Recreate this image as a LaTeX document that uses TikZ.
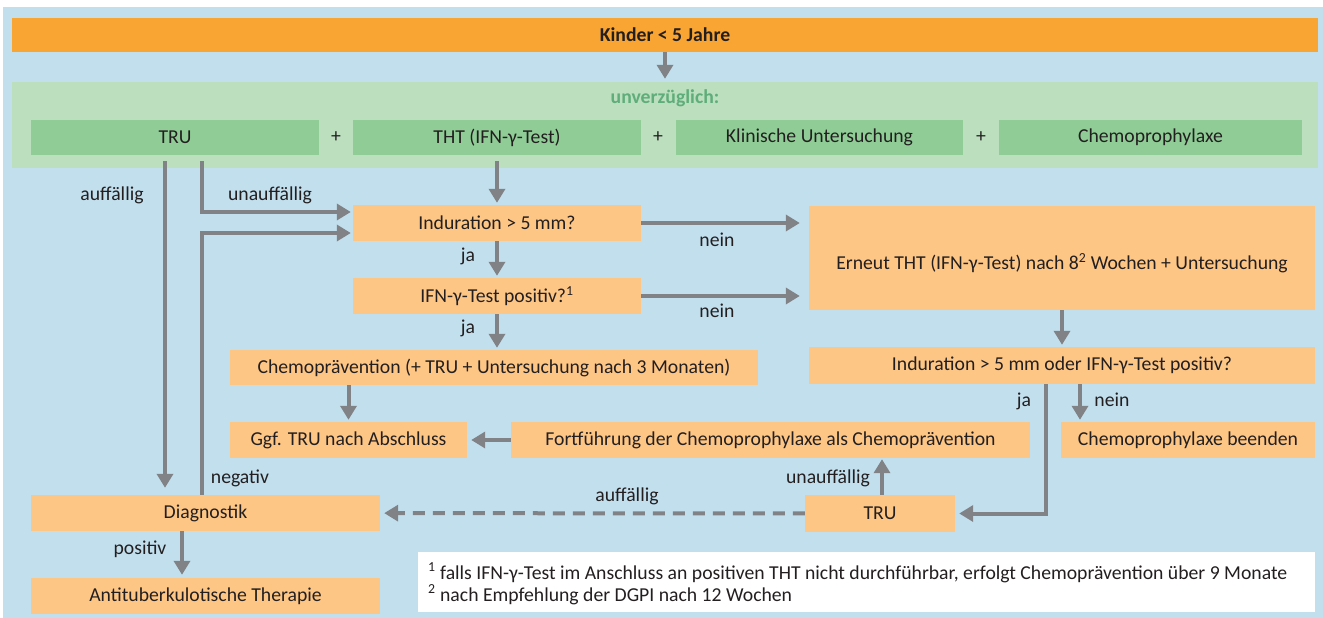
\documentclass[tikz,border=0pt]{standalone}
\usepackage{fontspec}
\setmainfont{Carlito}
\usetikzlibrary{positioning,arrows.meta,calc}
\definecolor{bgblue}{HTML}{C2DFEE}
\definecolor{barorange}{HTML}{F9A533}
\definecolor{boxorange}{HTML}{FDC685}
\definecolor{regiongreen}{HTML}{BCDFBE}
\definecolor{boxgreen}{HTML}{90CD96}
\definecolor{textgreen}{HTML}{5EAD7A}
\definecolor{arrgrey}{HTML}{808285}
\definecolor{txt}{HTML}{231F20}

\tikzset{
  obox/.style={fill=boxorange, inner sep=0pt, text=txt, font=\fontsize{19.7}{23}\selectfont},
  gbox/.style={fill=boxgreen, inner sep=0pt, minimum height=35, text=txt, font=\fontsize{19.7}{23}\selectfont},
  lbl/.style={text=txt, inner sep=1pt, font=\fontsize{19.7}{23}\selectfont},
  arr/.style={draw=arrgrey, line width=4pt, -{Triangle[width=16pt,length=14pt]}}
}

\begin{document}
\begin{tikzpicture}[x=1pt, y=-1pt]
  \useasboundingbox (0,0) rectangle (1323,618);
  \fill[bgblue] (3,7) rectangle (1323,618);

  % header
  \node[fill=barorange, inner sep=0pt, minimum width=1306, minimum height=34, text=txt,
        font=\fontsize{19.7}{23}\selectfont\bfseries] (kinder) at (665,35) {Kinder < 5 Jahre};
  \node[fill=regiongreen, inner sep=0pt, minimum width=1306, minimum height=86] (sofort) at (665,125) {};
  \node[text=textgreen, font=\fontsize{19.7}{23}\selectfont\bfseries] (unverz) at (665,98) {unverzüglich:};

  \node[gbox, minimum width=288] (tru) at (175,137.5) {TRU};
  \node[gbox, minimum width=288] (tht) at (497,137.5) {THT (IFN-γ-Test)};
  \node[gbox, minimum width=287] (klin) at (819.5,137.5) {Klinische Untersuchung};
  \node[gbox, minimum width=303] (cpro) at (1150.5,137.5) {Chemoprophylaxe};
  \node[lbl] (p1) at (336,137.5) {+};
  \node[lbl] (p2) at (658,137.5) {+};
  \node[lbl] (p3) at (981,137.5) {+};

  % left column
  \node[obox, minimum width=288, minimum height=36] (indur) at (497,223) {Induration > 5 mm?};
  \node[obox, minimum width=288, minimum height=36] (ifn) at (497,296) {IFN-γ-Test positiv?\textsuperscript{1}};
  \node[obox, minimum width=528, minimum height=35] (chemo) at (494,367.5) {Chemoprävention (+ TRU + Untersuchung nach 3 Monaten)};
  \node[obox, minimum width=237, minimum height=36] (ggf) at (348.5,440) {Ggf. TRU nach Abschluss};
  \node[obox, minimum width=519, minimum height=36] (fort) at (770.5,440) {Fortführung der Chemoprophylaxe als Chemoprävention};
  \node[obox, minimum width=349, minimum height=36] (diag) at (205.5,513) {Diagnostik};
  \node[obox, minimum width=349, minimum height=36] (antitb) at (205.5,596) {Antituberkulotische Therapie};

  % right column
  \node[obox, minimum width=506, minimum height=104] (erneut) at (1062,258) {};
  \node[obox, fill=none] (erneuttext) at (1062,263) {Erneut THT (IFN-γ-Test) nach 8\textsuperscript{2} Wochen + Untersuchung};
  \node[obox, minimum width=506, minimum height=37] (indur2) at (1062,365.5) {Induration > 5 mm oder IFN-γ-Test positiv?};
  \node[obox, minimum width=254, minimum height=36] (ende) at (1188,440) {Chemoprophylaxe beenden};
  \node[obox, minimum width=150, minimum height=37] (tru2) at (880,513.5) {TRU};

  % footnotes
  \node[fill=white, inner sep=0pt, minimum width=897, minimum height=60] (fn) at (866.5,582) {};
  \node[text=txt, anchor=west, align=left, inner sep=0pt, font=\fontsize{19.7}{22}\selectfont]
    (fntext) at (428,584) {\textsuperscript{1} falls IFN-γ-Test im Anschluss an positiven THT nicht durchführbar, erfolgt Chemoprävention über 9 Monate\\
                           \textsuperscript{2} nach Empfehlung der DGPI nach 12 Wochen};

  % connectors
  \draw[arr, shorten >=3pt] (kinder) -- (sofort);
  \draw[arr, shorten <=6pt, shorten >=7pt] ([xshift=-10]tru.south) -- ([xshift=-10]tru.south |- diag.north);
  \draw[arr, shorten <=6pt, shorten >=2pt] ([xshift=27]tru.south) |- ([yshift=11]indur.west);
  \draw[arr, shorten >=2pt] ([xshift=-3.5]diag.north) |- ([yshift=-10]indur.west);
  \draw[arr, shorten <=6pt, shorten >=2pt] (tht) -- (indur);
  \draw[arr, shorten >=2pt] (indur) -- (ifn);
  \draw[arr, shorten >=2pt] (ifn) -- (ifn |- chemo.north);
  \draw[arr, shorten >=9pt] (indur) -- (indur -| erneut.west);
  \draw[arr, shorten >=9pt] (ifn) -- (ifn -| erneut.west);
  \draw[arr, shorten >=2pt] (erneut) -- (indur2);
  \draw[arr, shorten >=2pt] (chemo.south -| ggf.north) -- (ggf);
  \draw[arr, shorten >=4pt] (fort) -- (ggf);
  \draw[arr, shorten >=4pt] ([xshift=-16]indur2.south) |- (tru2);
  \draw[arr, shorten >=2pt] ([xshift=18]indur2.south) -- ([xshift=18]indur2.south |- ende.north);
  \draw[arr, shorten >=1pt] ([xshift=2]tru2.north) -- ([xshift=2]tru2.north |- fort.south);
  \draw[arr, dash pattern=on 12pt off 8pt, shorten >=4pt] (tru2) -- (diag);
  \draw[arr, shorten >=3pt] ([xshift=-23.5]diag.south) -- ([xshift=-23.5]diag.south |- antitb.north);

  % labels
  \node[lbl] (l1) at (112,195) {auffällig};
  \node[lbl] (l2) at (270,195) {unauffällig};
  \node[lbl] (l3) at (468,256) {ja};
  \node[lbl] (l4) at (468,328) {ja};
  \node[lbl] (l5) at (717,240) {nein};
  \node[lbl] (l6) at (717,311) {nein};
  \node[lbl] (l7) at (1024,401) {ja};
  \node[lbl] (l8) at (1112,400) {nein};
  \node[lbl] (l9) at (828,478) {unauffällig};
  \node[lbl] (l10) at (627,496) {auffällig};
  \node[lbl] (l11) at (240,478) {negativ};
  \node[lbl] (l12) at (140,549) {positiv};
\end{tikzpicture}
\end{document}
